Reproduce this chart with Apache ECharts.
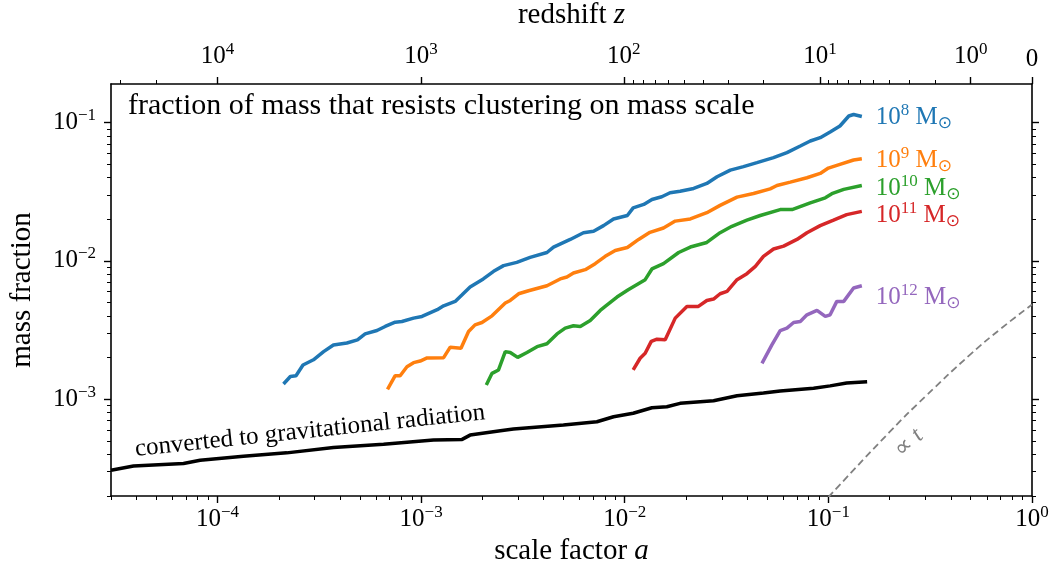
<!DOCTYPE html>
<html>
<head>
<meta charset="utf-8">
<script src="https://cdn.jsdelivr.net/npm/echarts@6/dist/echarts.min.js"></script>
<style>
  html, body { margin: 0; padding: 0; background: #fff; }
  #main { width: 1054px; height: 567px; }
</style>
</head>
<body>
<div id="main"></div>
<script>
// axis ranges
var aMin = 3e-5, aMax = 1;
var fMin = 2e-4, fMax = 0.19;

// tick labels
var aTicks = [1e-4, 1e-3, 1e-2, 1e-1, 1];
var aTickLabels = ['10{sup|−4}', '10{sup|−3}', '10{sup|−2}', '10{sup|−1}', '10{sup|0}'];
var fTicks = [1e-3, 1e-2, 1e-1];
var fTickLabels = ['10{sup|−3}', '10{sup|−2}', '10{sup|−1}'];
var zTicks = [1e4, 1e3, 1e2, 10, 1, 0];
var zTickLabels = ['10{sup|4}', '10{sup|3}', '10{sup|2}', '10{sup|1}', '10{sup|0}', '0'];

// curves: [scale factor a, mass fraction]
var m8 = [[2.11e-4,1.29e-3],[2.28e-4,1.46e-3],[2.43e-4,1.48e-3],[2.63e-4,1.77e-3],[2.96e-4,1.93e-3],[3.32e-4,2.21e-3],[3.71e-4,2.47e-3],[4.32e-4,2.55e-3],[4.87e-4,2.69e-3],[5.31e-4,2.97e-3],
  [6.07e-4,3.14e-3],[6.66e-4,3.36e-3],[7.46e-4,3.61e-3],[8.05e-4,3.65e-3],[9.18e-4,3.86e-3],[1.01e-3,3.97e-3],[1.20e-3,4.44e-3],[1.29e-3,4.74e-3],[1.47e-3,5.10e-3],[1.59e-3,5.70e-3],
  [1.74e-3,6.48e-3],[2.02e-3,7.41e-3],[2.27e-3,8.41e-3],[2.54e-3,9.25e-3],[2.95e-3,9.77e-3],[3.43e-3,1.06e-2],[4.15e-3,1.15e-2],[4.47e-3,1.26e-2],[5.40e-3,1.43e-2],[6.27e-3,1.60e-2],
  [7.03e-3,1.64e-2],[7.87e-3,1.80e-2],[8.81e-3,2.01e-2],[1.03e-2,2.13e-2],[1.10e-2,2.42e-2],[1.24e-2,2.56e-2],[1.36e-2,2.78e-2],[1.52e-2,2.91e-2],[1.67e-2,3.11e-2],[1.87e-2,3.19e-2],
  [2.18e-2,3.34e-2],[2.53e-2,3.63e-2],[2.84e-2,4.06e-2],[3.30e-2,4.53e-2],[3.83e-2,4.80e-2],[4.46e-2,5.13e-2],[5.38e-2,5.58e-2],[6.26e-2,6.06e-2],[7.28e-2,6.77e-2],[8.15e-2,7.36e-2],
  [9.12e-2,7.78e-2],[0.102,8.55e-2],[0.114,9.45e-2],[0.126,0.1116],[0.133,0.1143],[0.146,0.1105]];
var m9 = [[6.84e-4,1.18e-3],[7.46e-4,1.48e-3],[7.89e-4,1.48e-3],[8.52e-4,1.72e-3],[9.18e-4,1.84e-3],[9.90e-4,1.89e-3],[1.07e-3,1.99e-3],[1.29e-3,2.00e-3],[1.39e-3,2.38e-3],[1.57e-3,2.34e-3],
  [1.71e-3,3.09e-3],[1.84e-3,3.45e-3],[1.99e-3,3.59e-3],[2.23e-3,4.01e-3],[2.59e-3,4.96e-3],[2.74e-3,5.18e-3],[3.01e-3,5.79e-3],[3.37e-3,6.09e-3],[4.15e-3,6.62e-3],[4.82e-3,7.41e-3],
  [5.20e-3,7.66e-3],[5.60e-3,8.18e-3],[6.40e-3,8.65e-3],[7.16e-3,9.56e-3],[8.02e-3,1.08e-2],[8.98e-3,1.19e-2],[1.03e-2,1.25e-2],[1.17e-2,1.43e-2],[1.33e-2,1.61e-2],[1.55e-2,1.73e-2],
  [1.77e-2,1.94e-2],[2.10e-2,2.01e-2],[2.53e-2,2.23e-2],[2.94e-2,2.52e-2],[3.56e-2,2.89e-2],[4.29e-2,3.07e-2],[5.18e-2,3.32e-2],[5.59e-2,3.51e-2],[6.50e-2,3.71e-2],[7.85e-2,3.99e-2],
  [9.12e-2,4.29e-2],[0.100,4.69e-2],[0.114,4.99e-2],[0.133,5.36e-2],[0.146,5.48e-2]];
var m10 = [[2.09e-3,1.27e-3],[2.23e-3,1.54e-3],[2.40e-3,1.63e-3],[2.59e-3,2.21e-3],[2.74e-3,2.18e-3],[2.98e-3,2.01e-3],[3.31e-3,2.18e-3],[3.71e-3,2.40e-3],[4.15e-3,2.52e-3],[4.65e-3,2.97e-3],
  [5.10e-3,3.27e-3],[5.60e-3,3.40e-3],[6.05e-3,3.36e-3],[6.77e-3,3.71e-3],[7.58e-3,4.39e-3],[8.02e-3,4.69e-3],[9.16e-3,5.48e-3],[1.04e-2,6.19e-3],[1.26e-2,7.32e-3],[1.36e-2,8.75e-3],
  [1.55e-2,9.56e-3],[1.84e-2,1.15e-2],[2.10e-2,1.26e-2],[2.53e-2,1.36e-2],[2.94e-2,1.60e-2],[3.36e-2,1.78e-2],[3.98e-2,1.97e-2],[4.63e-2,2.13e-2],[5.80e-2,2.35e-2],[6.63e-2,2.35e-2],
  [8.15e-2,2.63e-2],[9.66e-2,2.86e-2],[0.104,3.06e-2],[0.119,3.29e-2],[0.146,3.51e-2]];
var m11 = [[1.10e-2,1.63e-3],[1.19e-2,1.98e-3],[1.26e-2,2.15e-3],[1.35e-2,2.62e-3],[1.44e-2,2.72e-3],[1.58e-2,2.69e-3],[1.77e-2,3.86e-3],[2.02e-2,4.69e-3],[2.30e-2,4.69e-3],[2.53e-2,5.18e-3],
  [2.73e-2,5.30e-3],[2.94e-2,5.79e-3],[3.18e-2,6.02e-3],[3.56e-2,7.32e-3],[3.98e-2,8.09e-3],[4.38e-2,9.14e-3],[4.80e-2,1.08e-2],[5.38e-2,1.22e-2],[6.03e-2,1.28e-2],[7.01e-2,1.43e-2],
  [7.85e-2,1.60e-2],[9.12e-2,1.80e-2],[0.106,1.97e-2],[0.123,2.16e-2],[0.146,2.28e-2]];
var m12 = [[4.72e-2,1.82e-3],[5.28e-2,2.47e-3],[5.80e-2,3.14e-3],[6.26e-2,3.27e-3],[6.75e-2,3.59e-3],[7.28e-2,3.65e-3],[7.85e-2,4.08e-3],[8.79e-2,4.39e-3],[9.66e-2,3.97e-3],[0.102,4.08e-3],
  [0.110,5.10e-3],[0.119,5.10e-3],[0.133,6.37e-3],[0.146,6.62e-3]];
var gravRad = [[3.0e-5,3.07e-4],[3.87e-5,3.29e-4],[6.81e-5,3.44e-4],[8.22e-5,3.63e-4],[1.34e-4,3.88e-4],[2.19e-4,4.10e-4],[3.71e-4,4.49e-4],[6.54e-4,4.74e-4],[1.15e-3,5.07e-4],[1.59e-3,5.13e-4],
  [1.74e-3,5.51e-4],[2.45e-3,5.92e-4],[2.84e-3,6.09e-4],[5.00e-3,6.51e-4],[7.30e-3,6.88e-4],[8.81e-3,7.48e-4],[1.10e-2,7.92e-4],[1.36e-2,8.69e-4],[1.61e-2,8.84e-4],[1.87e-2,9.35e-4],
  [2.73e-2,9.77e-4],[3.56e-2,1.06e-3],[4.80e-2,1.11e-3],[5.80e-2,1.15e-3],[8.46e-2,1.20e-3],[0.102,1.25e-3],[0.123,1.31e-3],[0.155,1.34e-3]];
var propT = [[0.1,1.96e-4],[0.2,5.81e-4],[0.3,1.05e-3],[0.5,2.12e-3],[0.7,3.22e-3],[1.0,4.84e-3]];

var massLabels = ['10{sup|8} M{sub|⊙}', '10{sup|9} M{sub|⊙}', '10{sup|10} M{sub|⊙}', '10{sup|11} M{sub|⊙}', '10{sup|12} M{sub|⊙}'];
var massColors = ['#1f77b4', '#ff7f0e', '#2ca02c', '#d62728', '#9467bd'];

var FONT = 'Liberation Serif';
var TICK_FS = 25, SUP_FS = 17, NAME_FS = 29;

// minor tick positions (2..9 x 10^k)
function minors(lo, hi) {
    var out = [];
    for (var k = -6; k <= 1; k++) {
        for (var m = 2; m <= 9; m++) {
            var v = m * Math.pow(10, k);
            if (v >= lo * 0.999 && v <= hi * 1.001) out.push(v);
        }
    }
    return out;
}
var zTickA = zTicks.map(function (z) { return 1 / (z + 1); });
var zMinorA = [];
[2e4, 3e4].concat(minors(1, 1e4)).forEach(function (z) {
    var a = 1 / (z + 1);
    if (a >= aMin) zMinorA.push(a);
});
zMinorA = zMinorA.filter(function (a) {
    return zTickA.every(function (t) { return Math.abs(Math.log10(t / a)) > 1e-6; });
});

function nearest(ticks, v) {
    var best = 0, bd = Infinity;
    for (var i = 0; i < ticks.length; i++) {
        var d = Math.abs(Math.log(ticks[i]) - Math.log(v));
        if (d < bd) { bd = d; best = i; }
    }
    return best;
}

function supRich(size, color) {
    return {
        sup: { fontSize: size, fontFamily: FONT, color: color, padding: [0, 0, 14, 0] },
        sub: { fontSize: size, fontFamily: 'DejaVu Sans', color: color, padding: [12, 0, 0, 0] },
        i: { fontStyle: 'italic', fontFamily: FONT, fontSize: NAME_FS, color: color }
    };
}

var lineStyleAxis = { color: '#000', width: 1.6 };

function axisBase(extra) {
    var o = {
        type: 'log', logBase: 10,
        splitLine: { show: false },
        minorTick: { show: false },
        minorSplitLine: { show: false },
        axisLine: { show: false, onZero: false, lineStyle: lineStyleAxis },
        axisLabel: { show: false },
        axisTick: { show: false },
        axisPointer: { show: false }
    };
    for (var k in extra) o[k] = extra[k];
    return o;
}

var labelStyle = { fontFamily: FONT, fontSize: TICK_FS, color: '#000', rich: supRich(SUP_FS, '#000') };
var majorTick = { color: '#000', width: 1.4 };
var minorTick = { color: '#000', width: 1 };

var xAxes = [
    axisBase({
        position: 'bottom', min: aMin, max: aMax,
        axisLine: { show: true, onZero: false, lineStyle: lineStyleAxis },
        axisTick: { show: true, customValues: aTicks, length: 7, lineStyle: majorTick },
        axisLabel: Object.assign({ show: true, customValues: aTicks, margin: 8,
            formatter: function (v) { return aTickLabels[nearest(aTicks, v)]; } }, labelStyle),
        name: 'scale factor {i|a}', nameLocation: 'middle', nameGap: 41,
        nameTextStyle: { fontFamily: FONT, fontSize: NAME_FS, color: '#000', rich: supRich(SUP_FS, '#000') }
    }),
    axisBase({
        position: 'bottom', min: aMin, max: aMax,
        axisTick: { show: true, customValues: minors(aMin, aMax), length: 4, lineStyle: minorTick }
    }),
    axisBase({
        position: 'top', min: aMin, max: aMax,
        axisLine: { show: true, onZero: false, lineStyle: lineStyleAxis },
        axisTick: { show: true, customValues: zTickA, length: 7, lineStyle: majorTick },
        axisLabel: Object.assign({ show: true, customValues: zTickA, margin: 12,
            formatter: function (v) { return zTickLabels[nearest(zTickA, v)]; } }, labelStyle),
        name: 'redshift {i|z}', nameLocation: 'middle', nameGap: 54,
        nameTextStyle: { fontFamily: FONT, fontSize: NAME_FS, color: '#000', rich: supRich(SUP_FS, '#000') }
    }),
    axisBase({
        position: 'top', min: aMin, max: aMax,
        axisTick: { show: true, customValues: zMinorA, length: 4, lineStyle: minorTick }
    })
];

var yAxes = [
    axisBase({
        position: 'left', min: fMin, max: fMax,
        axisLine: { show: true, onZero: false, lineStyle: lineStyleAxis },
        axisTick: { show: true, customValues: fTicks, length: 7, lineStyle: majorTick },
        axisLabel: Object.assign({ show: true, customValues: fTicks, margin: 15,
            formatter: function (v) { return fTickLabels[nearest(fTicks, v)]; } }, labelStyle),
        name: 'mass fraction', nameLocation: 'middle', nameGap: 74, nameRotate: 90,
        nameTextStyle: { fontFamily: FONT, fontSize: NAME_FS, color: '#000' }
    }),
    axisBase({
        position: 'left', min: fMin, max: fMax,
        axisTick: { show: true, customValues: minors(fMin, fMax), length: 4, lineStyle: minorTick }
    }),
    axisBase({
        position: 'right', min: fMin, max: fMax,
        axisLine: { show: true, onZero: false, lineStyle: lineStyleAxis },
        axisTick: { show: true, customValues: fTicks, length: 7, lineStyle: majorTick }
    }),
    axisBase({
        position: 'right', min: fMin, max: fMax,
        axisTick: { show: true, customValues: minors(fMin, fMax), length: 4, lineStyle: minorTick }
    })
];

var massData = [m8, m9, m10, m11, m12];
var labelOffsets = [[0, 1], [0, 2], [0, 3], [0, 4], [0, 12]];
var series = massData.map(function (d, i) {
    return {
        type: 'line', data: d, xAxisIndex: 0, yAxisIndex: 0,
        showSymbol: false, symbol: 'none', animation: false,
        lineStyle: { color: massColors[i], width: 3.5 },
        endLabel: {
            show: true, distance: 14, offset: labelOffsets[i],
            formatter: function () { return massLabels[i]; },
            fontFamily: FONT, fontSize: TICK_FS, color: massColors[i],
            rich: supRich(SUP_FS, massColors[i])
        }
    };
});
series.push({
    type: 'line', data: gravRad, xAxisIndex: 0, yAxisIndex: 0,
    showSymbol: false, symbol: 'none', animation: false,
    lineStyle: { color: '#000', width: 3.5 }
});
series.push({
    type: 'line', data: propT, xAxisIndex: 0, yAxisIndex: 0, smooth: true,
    showSymbol: false, symbol: 'none', animation: false,
    lineStyle: { color: '#808080', width: 1.8, type: [7, 4] }
});

var option = {
    animation: false,
    backgroundColor: '#fff',
    grid: { left: 111, right: 22, top: 84, bottom: 71, containLabel: false, outerBoundsMode: 'none' },
    xAxis: xAxes,
    yAxis: yAxes,
    series: series,
    graphic: [
        { type: 'text', x: 128, y: 106, z: 10,
          style: { text: 'fraction of mass that resists clustering on mass scale', fontFamily: FONT, fontSize: 30,
                   fill: '#000', verticalAlign: 'middle' } },
        { type: 'text', x: 310, y: 431, rotation: 0.105, z: 10,
          style: { text: 'converted to gravitational radiation', fontFamily: FONT, fontSize: 25,
                   fill: '#000', align: 'center', verticalAlign: 'middle' } },
        { type: 'text', x: 909, y: 443, rotation: 0.75, z: 10,
          style: { text: '∝ {i|t}', fontFamily: FONT, fontSize: 24, fill: '#808080', align: 'center', verticalAlign: 'middle',
                   rich: { i: { fontStyle: 'italic', fontFamily: FONT, fontSize: 24, fill: '#808080' } } } }
    ]
};

var chart = echarts.init(document.getElementById('main'));
chart.setOption(option);
</script>
</body>
</html>
